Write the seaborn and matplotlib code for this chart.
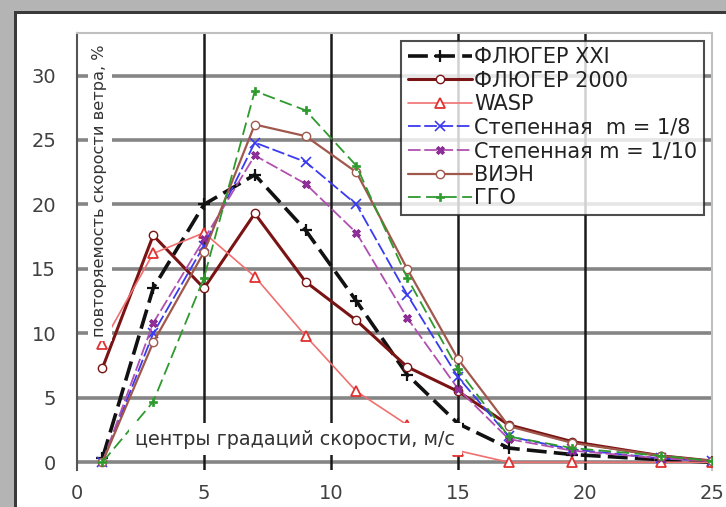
import matplotlib
matplotlib.use("Agg")
import matplotlib.pyplot as plt
import seaborn as sns
import pandas as pd
from matplotlib.patches import Rectangle

# ---- data ----
speed_centers = [1, 3, 5, 7, 9, 11, 13, 15, 17, 19.5, 23, 25]
fluger_xxi   = [0.3, 13.5, 20.0, 22.3, 18.0, 12.5, 6.8, 3.0, 1.1, 0.6, 0.2, 0.0]
fluger_2000  = [7.3, 17.6, 13.5, 19.3, 14.0, 11.0, 7.4, 5.5, 2.9, 1.6, 0.5, 0.1]
wasp         = [9.2, 16.2, 17.8, 14.4, 9.8, 5.5, 2.9, 0.9, 0.0, 0.0, 0.0, 0.0]
power_1_8    = [0.0, 10.0, 16.8, 24.8, 23.3, 20.0, 13.0, 6.6, 2.0, 1.0, 0.3, 0.1]
power_1_10   = [0.0, 10.8, 17.3, 23.8, 21.6, 17.8, 11.2, 5.7, 1.8, 0.9, 0.3, 0.1]
vien         = [0.0, 9.3, 16.3, 26.2, 25.3, 22.5, 15.0, 8.0, 2.8, 1.5, 0.5, 0.1]
ggo          = [0.0, 4.7, 14.3, 28.8, 27.3, 23.0, 14.3, 7.2, 2.0, 1.1, 0.5, 0.1]

series_names = ["ФЛЮГЕР XXI", "ФЛЮГЕР 2000", "WASP", "Степенная  m = 1/8",
                "Степенная m = 1/10", "ВИЭН", "ГГО"]
series_values = [fluger_xxi, fluger_2000, wasp, power_1_8, power_1_10, vien, ggo]

x_ticks = [0, 5, 10, 15, 20, 25]
y_ticks = [0, 5, 10, 15, 20, 25, 30]
y_label = "повторяемость скорости ветра, %"
x_label = "центры градаций скорости, м/с"

styles = [
    dict(color="#111111", linestyle=(0, (5.5, 2)), linewidth=2.6, marker="+", markersize=8,
         markeredgewidth=1.6, markeredgecolor="#111111", markerfacecolor="#111111"),
    dict(color="#7a1414", linestyle="-", linewidth=2.2, marker="o", markersize=6,
         markeredgewidth=1.0, markeredgecolor="#7a1414", markerfacecolor="white"),
    dict(color="#f07070", linestyle="-", linewidth=1.2, marker="^", markersize=7.5,
         markeredgewidth=1.3, markeredgecolor="#e03030", markerfacecolor="white"),
    dict(color="#3a3af0", linestyle=(0, (7, 2)), linewidth=1.3, marker="x", markersize=7,
         markeredgewidth=1.2, markeredgecolor="#3a3af0", markerfacecolor="#3a3af0"),
    dict(color="#b050b0", linestyle=(0, (7, 2)), linewidth=1.3, marker="X", markersize=6,
         markeredgewidth=0.6, markeredgecolor="#802080", markerfacecolor="#9030a0"),
    dict(color="#a0584c", linestyle="-", linewidth=1.6, marker="o", markersize=6,
         markeredgewidth=1.0, markeredgecolor="#a0584c", markerfacecolor="white"),
    dict(color="#2e9a2e", linestyle=(0, (7, 3)), linewidth=1.3, marker="P", markersize=6,
         markeredgewidth=0.5, markeredgecolor="#2e9a2e", markerfacecolor="#2e9a2e"),
]

sns.set_style("white")
plt.rcParams["font.family"] = ["DejaVu Sans"]

fig = plt.figure(figsize=(7.26, 5.07), dpi=100, facecolor="white")
W, H = 726, 507
# grey frame
fig.patches.append(Rectangle((0, 1 - 11 / H), 1, 11 / H, transform=fig.transFigure,
                             facecolor="#b4b4b4", edgecolor="none", zorder=0))
fig.patches.append(Rectangle((0, 0), 14 / W, 1, transform=fig.transFigure,
                             facecolor="#b4b4b4", edgecolor="none", zorder=0))
fig.patches.append(Rectangle((14 / W, 0), 3 / W, 1 - 11 / H, transform=fig.transFigure,
                             facecolor="#3a3a3a", edgecolor="none", zorder=0))
fig.patches.append(Rectangle((14 / W, 1 - 14 / H), 1, 3 / H, transform=fig.transFigure,
                             facecolor="#3a3a3a", edgecolor="none", zorder=0))

ax = fig.add_axes([77 / W, 1 - 470 / H, (712 - 77) / W, (470 - 33) / H])
ax.set_facecolor("white")

for name, vals, st in zip(series_names, series_values, styles):
    df = pd.DataFrame({"x": speed_centers, "y": vals})
    sns.lineplot(data=df, x="x", y="y", ax=ax, label=name, sort=False,
                 estimator=None, zorder=3, **st)

ax.set_xlim(0, 25)
ax.set_ylim(-0.6, 33.3)
ax.set_xticks(x_ticks)
ax.set_yticks(y_ticks)
ax.set_xlabel("")
ax.set_ylabel("")

# grid
for yv in y_ticks:
    ax.axhline(yv, color="#858585", linewidth=2.6, zorder=1)
for xv in x_ticks[1:-1]:
    ax.axvline(xv, color="#1a1a1a", linewidth=1.8, zorder=1)

for side in ["top", "right"]:
    ax.spines[side].set_color("#c0c0c0")
    ax.spines[side].set_linewidth(1.5)
ax.spines["bottom"].set_visible(False)
ax.spines["left"].set_color("#555555")
ax.spines["left"].set_linewidth(1.5)

ax.tick_params(axis="y", direction="out", length=6, width=1.2, color="#555555",
               labelsize=14, labelcolor="#404040", pad=9)
ax.tick_params(axis="x", direction="out", length=0, labelsize=14,
               labelcolor="#404040", pad=10)

# in-plot axis labels with white boxes
ax.text(0.9, 21.1, y_label, rotation=90, ha="center", va="center", fontsize=11.6,
        color="#333333", zorder=6,
        bbox=dict(facecolor="white", edgecolor="none", pad=3))
ax.text(8.6, 1.8, x_label, ha="center", va="center", fontsize=13.8,
        color="#333333", zorder=6,
        bbox=dict(facecolor="white", edgecolor="none", pad=5))

leg = ax.legend(loc="upper right", bbox_to_anchor=(0.987, 0.982), borderaxespad=0,
                fontsize=15, frameon=True, fancybox=False, handlelength=3.1,
                handletextpad=0.1, labelspacing=0.17, borderpad=0.3)
leg.get_frame().set_edgecolor("#222222")
leg.get_frame().set_linewidth(1.5)
leg.set_zorder(7)
for t in leg.get_texts():
    t.set_color("#222222")

fig.savefig("out.png", dpi=100, facecolor=fig.get_facecolor())
